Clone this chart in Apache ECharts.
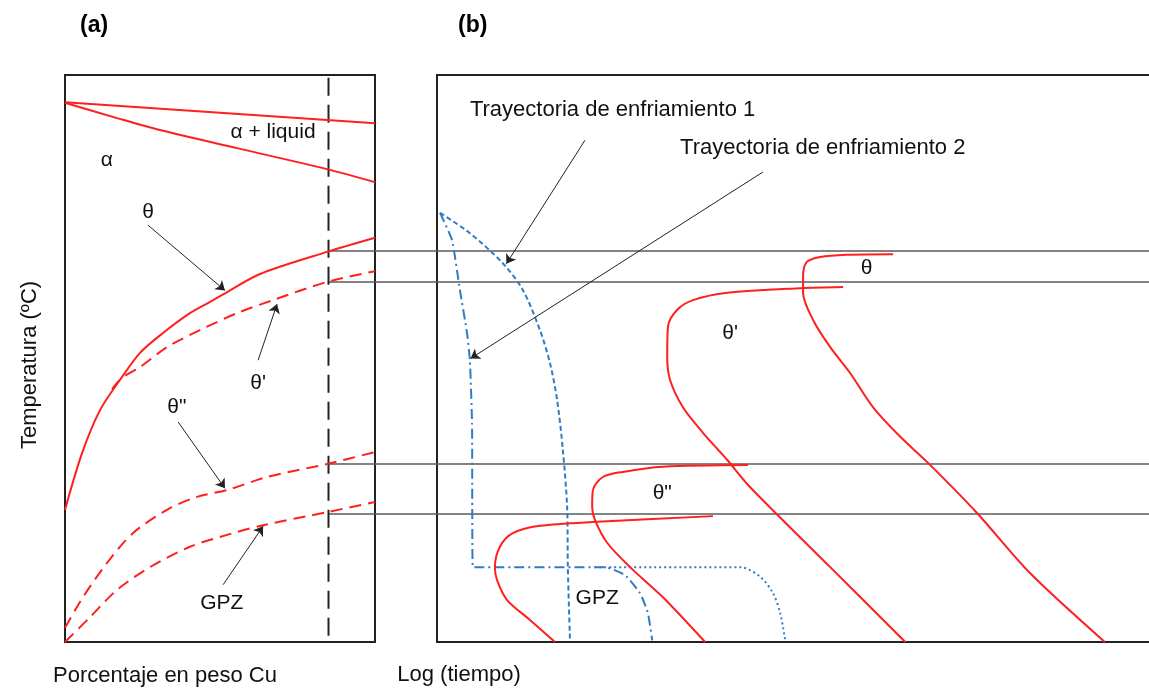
<!DOCTYPE html>
<html>
<head>
<meta charset="utf-8">
<script src="https://cdn.jsdelivr.net/npm/echarts@6/dist/echarts.min.js"></script>
<style>
  html, body { margin: 0; padding: 0; background: #fff; }
  #chart { width: 1149px; height: 695px; }
</style>
</head>
<body>
<div id="chart"></div>
<script>
// ---- Panel (a): Al-Cu phase diagram (x = wt% Cu, y = relative temperature) ----
const alloyCu = 8.5;                       // composition of the alloy (dashed vertical)
const liquidus = [[0, 95.2], [10, 91.5]];
const solidus = [[0, 95.1], [1.68, 92.4], [3.06, 90.3], [5.55, 87.1], [8.45, 83.4], [10, 81.1]];
const solvusTheta = [[0, 23.3], [0.55, 33.3], [1.13, 40.9], [1.77, 46.2], [2.42, 51.0], [3.16, 54.5],
  [4.03, 58.0], [4.68, 60.0], [5.1, 61.3], [6.29, 64.9], [8.45, 68.8], [10, 71.3]];
const solvusThetaP = [[1.52, 44.6], [1.84, 46.6], [2.42, 48.5], [3.29, 52.0], [4.35, 55.0], [5.55, 58.0],
  [6.71, 60.3], [8.45, 63.5], [10, 65.4]];
const solvusThetaPP = [[0, 2.5], [0.58, 7.9], [1.35, 13.9], [2.19, 19.2], [3.29, 23.3], [4.26, 25.6],
  [5.23, 26.8], [6.52, 29.1], [8.45, 31.4], [10, 33.5]];
const solvusGPZ = [[0, 0], [0.81, 4.4], [1.68, 9.2], [2.74, 13.2], [4.03, 16.8], [5.42, 19.2],
  [6.39, 20.6], [8.45, 22.9], [10, 24.7]];

// Solvus temperatures of the alloy, carried across to the TTT diagram
const solvusTemps = [69.0, 63.5, 31.4, 22.7];
const guideEndX = 35.5;                    // guides run past panel (a) to the far edge of panel (b)

const arrowsA = [
  [[2.68, 73.5], [5.16, 62.0]],
  [[6.23, 49.7], [6.84, 59.6]],
  [[3.65, 38.8], [5.16, 27.1]],
  [[5.10, 10.1], [6.39, 20.4]]
];
const labelsA = [
  ['α', 1.35, 85.0], ['α + liquid', 6.71, 89.9], ['θ', 2.68, 75.8],
  ["θ'", 6.23, 45.7], ['θ"', 3.61, 41.4], ['GPZ', 5.06, 6.9]
];

// ---- Panel (b): TTT curves (x = log time, y = relative temperature) ----
const cGPZ = [[38.6, 22.2], [22.4, 21.2], [14.4, 20.5], [10.6, 19.2], [8.8, 16.8], [8.1, 13.2],
  [8.4, 10.9], [9.8, 7.4], [13.0, 3.9], [16.5, 0]];
const cThetaPP = [[43.5, 31.2], [31.6, 30.9], [26.0, 30.0], [23.2, 29.1], [21.8, 26.8], [21.7, 23.8],
  [22.1, 21.5], [23.8, 17.5], [27.0, 13.2], [31.6, 7.9], [37.5, 0]];
const cThetaP = [[56.8, 62.6], [50.8, 62.4], [40.6, 61.6], [35.8, 60.3], [33.6, 58.6], [32.3, 55.6],
  [32.2, 50.3], [32.6, 46.2], [34.4, 41.4], [37.2, 36.9], [40.6, 32.1], [43.8, 27.3], [55.0, 13.2], [65.5, 0]];
const cTheta = [[63.8, 68.4], [57.3, 68.3], [53.6, 67.9], [51.7, 67.0], [51.2, 64.4], [51.2, 61.6],
  [52.6, 56.8], [55.0, 52.0], [57.8, 47.4], [61.0, 41.4], [64.8, 36.2], [69.0, 31.2], [75.5, 22.8],
  [82.9, 12.2], [93.4, 0]];

const cooling1 = [[0.42, 75.7], [4.6, 72.1], [9.2, 66.8], [12.0, 62.1], [14.4, 55.0], [15.8, 49.2],
  [16.8, 42.7], [17.6, 33.9], [18.2, 23.8], [18.3, 13.2], [18.6, 0.3]];
const cooling2 = [[0.42, 75.7], [2.1, 70.9], [3.2, 62.1], [4.2, 54.5], [4.6, 49.7], [4.9, 38.6],
  [5.0, 13.2], [23.5, 13.2], [26.3, 11.8], [28.4, 8.6], [29.5, 5.1], [30.1, 0.3]];
const agingLong = [[22.0, 13.2], [42.4, 13.2], [45.2, 11.5], [47.0, 8.6], [48.0, 5.1], [48.7, 0.3]];

const arrowsB = [
  [[20.7, 88.5], [9.7, 66.7]],
  [[45.6, 82.9], [4.7, 50.0]]
];
const labelsB = [
  ['θ', 60.1, 66.0], ["θ'", 41.0, 54.5], ['θ"', 31.5, 26.3], ['GPZ', 22.4, 7.8]
];
const trajLabels = [
  ['Trayectoria de enfriamiento 1', 4.6, 93.8],
  ['Trayectoria de enfriamiento 2', 34.0, 87.1]
];

const RED = '#ff1f1f';
const BLUE = '#2f7cc4';
const INK = '#111';
const FONT = 'Liberation Sans, Arial, sans-serif';

function redLine(data, ax, dashed) {
  return {
    type: 'line', xAxisIndex: ax, yAxisIndex: ax, data: data, symbol: 'none', smooth: 0.3,
    lineStyle: { color: RED, width: 2, type: dashed ? [12, 7] : 'solid' }, z: 4, silent: true
  };
}
function blueLine(data, dash, smooth) {
  return {
    type: 'line', xAxisIndex: 1, yAxisIndex: 1, data: data, symbol: 'none', smooth: smooth,
    lineStyle: { color: BLUE, width: 2, type: dash }, z: 3, silent: true
  };
}
function arrows(list, ax) {
  return {
    type: 'lines', coordinateSystem: 'cartesian2d', xAxisIndex: ax, yAxisIndex: ax,
    symbol: ['none', 'arrow'], symbolSize: [6, 9], silent: true, z: 5,
    lineStyle: { color: '#222', width: 1, opacity: 1 },
    data: list.map(c => ({ coords: c }))
  };
}
function textLabels(list, ax, size, align) {
  return {
    type: 'scatter', xAxisIndex: ax, yAxisIndex: ax, symbolSize: 0, silent: true, z: 6,
    itemStyle: { opacity: 1 },
    data: list.map(l => ({ value: [l[1], l[2]], name: l[0] })),
    label: {
      show: true, position: 'inside', formatter: p => p.name, color: INK, opacity: 1,
      fontFamily: FONT, fontSize: size, align: align || 'center', verticalAlign: 'middle'
    }
  };
}

const hiddenAxis = {
  type: 'value', axisLine: { show: false }, axisTick: { show: false },
  axisLabel: { show: false }, splitLine: { show: false }
};

const chart = echarts.init(document.getElementById('chart'), null, { renderer: 'canvas' });
chart.setOption({
  animation: false,
  backgroundColor: '#fff',
  grid: [
    { left: 65, top: 75, width: 310, height: 567, show: true, borderColor: '#222', borderWidth: 2,
      outerBoundsMode: 'none' },
    // panel (b) runs on past the right edge of the page
    { left: 437, top: 75, width: 740, height: 567, show: true, borderColor: '#222', borderWidth: 2,
      outerBoundsMode: 'none' }
  ],
  xAxis: [
    Object.assign({}, hiddenAxis, { gridIndex: 0, min: 0, max: 10 }),
    Object.assign({}, hiddenAxis, { gridIndex: 1, min: 0, max: 103.5 })
  ],
  yAxis: [
    Object.assign({}, hiddenAxis, { gridIndex: 0, min: 0, max: 100 }),
    Object.assign({}, hiddenAxis, { gridIndex: 1, min: 0, max: 100 })
  ],
  graphic: [
    { type: 'text', left: 80, top: 14, style: { text: '(a)', font: 'bold 23px ' + FONT, fill: '#000' } },
    { type: 'text', left: 458, top: 14, style: { text: '(b)', font: 'bold 23px ' + FONT, fill: '#000' } },
    { type: 'text', x: 30, y: 365, rotation: Math.PI / 2,
      style: { text: 'Temperatura (ºC)', font: '22px ' + FONT, fill: INK, align: 'center', verticalAlign: 'middle' } },
    { type: 'text', x: 165, y: 676,
      style: { text: 'Porcentaje en peso Cu', font: '22px ' + FONT, fill: INK, align: 'center', verticalAlign: 'middle' } },
    { type: 'text', x: 459, y: 675,
      style: { text: 'Log (tiempo)', font: '22px ' + FONT, fill: INK, align: 'center', verticalAlign: 'middle' } }
  ],
  series: [
    // guides from the alloy's solvus temperatures into the TTT panel
    {
      type: 'lines', coordinateSystem: 'cartesian2d', xAxisIndex: 0, yAxisIndex: 0,
      silent: true, z: 2, clip: false, symbol: 'none',
      lineStyle: { color: '#5a5a5a', width: 1.6, opacity: 1 },
      data: solvusTemps.map(t => ({ coords: [[alloyCu, t], [guideEndX, t]] }))
    },
    // alloy composition, dashed from the top of the panel down
    {
      type: 'line', xAxisIndex: 0, yAxisIndex: 0, symbol: 'none', silent: true, z: 3,
      data: [[alloyCu, 99.5], [alloyCu, 0]],
      lineStyle: { color: '#222', width: 2, type: [18, 9] }
    },
    redLine(liquidus, 0, false),
    redLine(solidus, 0, false),
    redLine(solvusTheta, 0, false),
    redLine(solvusThetaP, 0, true),
    redLine(solvusThetaPP, 0, true),
    redLine(solvusGPZ, 0, true),
    arrows(arrowsA, 0),
    textLabels(labelsA, 0, 21),

    redLine(cGPZ, 1, false),
    redLine(cThetaPP, 1, false),
    redLine(cThetaP, 1, false),
    redLine(cTheta, 1, false),
    blueLine(cooling1, [5, 3], 0.3),
    blueLine(cooling2, [10, 4, 2, 4], 0.15),
    blueLine(agingLong, [2, 3], 0.3),
    arrows(arrowsB, 1),
    textLabels(labelsB, 1, 21),
    textLabels(trajLabels, 1, 22, 'left')
  ]
});
</script>
</body>
</html>
